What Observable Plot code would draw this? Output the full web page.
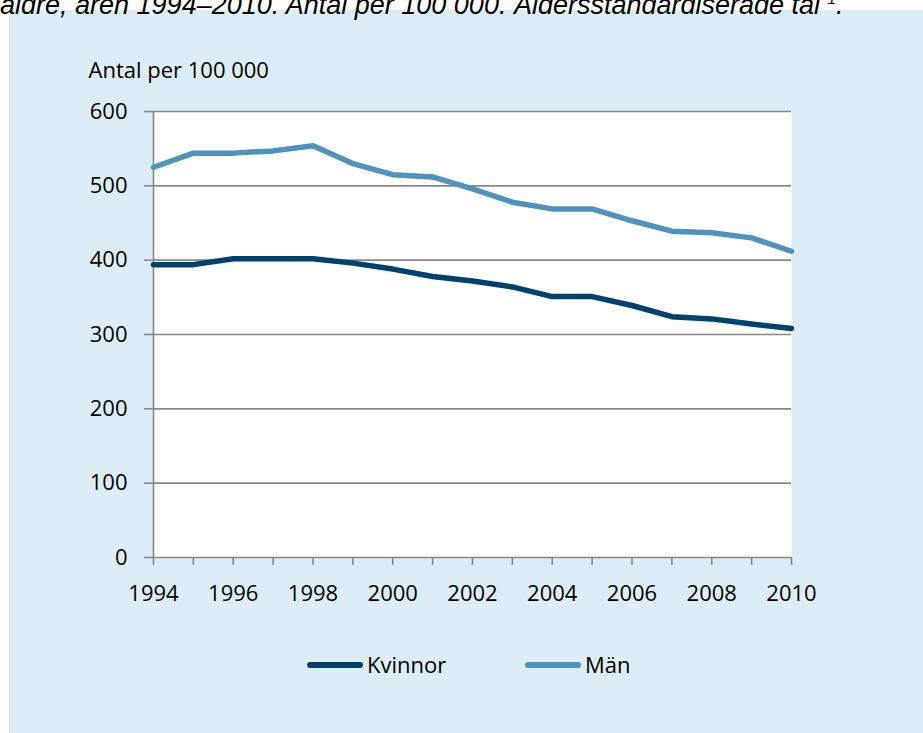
<!DOCTYPE html>
<html lang="sv">
<head>
<meta charset="utf-8">
<script src="https://cdn.jsdelivr.net/npm/d3@7"></script>
<script src="https://cdn.jsdelivr.net/npm/@observablehq/plot@0.6"></script>
<style>
  html, body { margin: 0; padding: 0; background: #fff; }
  body { width: 923px; height: 733px; position: relative; overflow: hidden; font-family: "Open Sans", sans-serif; }
  #title { position: absolute; left: 0; top: -15px; z-index: 2; white-space: nowrap;
           font-family: "Liberation Sans", Arial, sans-serif; font-style: italic; font-size: 27px; line-height: 27px; color: #000; }
  #panel { position: absolute; left: 9px; top: 10px; width: 914px; height: 723px; background: #ddedf5; }
  #chart { position: absolute; left: 0; top: 0; }
  .lg-swatch { position: absolute; height: 6px; border-radius: 3px; }
  .lg-label { position: absolute; font-size: 22px; line-height: 22px; color: #000; white-space: nowrap; }
</style>
</head>
<body>
<div id="title">äldre, åren 1994–2010. Antal per 100 000. Åldersstandardiserade tal <sup style="font-size:15px">1</sup>.</div>
<div id="panel">
  <div id="chart"></div>
  <div id="legend"></div>
</div>
<script>
// Years on the x axis
const years = [1994, 1995, 1996, 1997, 1998, 1999, 2000, 2001, 2002,
               2003, 2004, 2005, 2006, 2007, 2008, 2009, 2010];
// Rate per 100 000, age standardised
const kvinnor = [394, 394, 402, 402, 402, 396, 388, 378, 372,
                 364, 351, 351, 339, 324, 321, 314, 308];
const man     = [525, 544, 544, 547, 554, 530, 515, 512, 496,
                 478, 469, 469, 453, 439, 437, 430, 412];
const seriesNames = ["Kvinnor", "Män"];
const seriesColors = ["#00416b", "#5093ba"];
const yTicks = [0, 100, 200, 300, 400, 500, 600];
const yTitle = "Antal per 100 000";

const rows = years.flatMap((year, i) => [
  {year, value: kvinnor[i], serie: seriesNames[0]},
  {year, value: man[i], serie: seriesNames[1]}
]);

const axisGray = "#878787";

const chart = Plot.plot({
  width: 914,
  height: 600,
  marginLeft: 144,
  marginRight: 132,
  marginTop: 101,
  marginBottom: 53,
  style: {fontFamily: "'Open Sans', sans-serif", fontSize: "22px", color: "#000", background: "transparent", overflow: "visible"},
  x: {domain: [1994, 2010], label: null},
  y: {domain: [0, 600], label: null},
  color: {domain: seriesNames, range: seriesColors},
  marks: [
    Plot.frame({fill: "white", stroke: null}),
    Plot.gridY(yTicks, {stroke: axisGray, strokeOpacity: 1, strokeWidth: 1.6}),
    Plot.ruleX([1994], {stroke: axisGray, strokeWidth: 1.6}),
    Plot.axisY(yTicks, {tickSize: 9, tickPadding: 17, stroke: axisGray, strokeWidth: 1.6,
                        tickFormat: d => String(d), label: null, fontSize: 22}),
    Plot.axisX(years, {tickSize: 8, tickPadding: 20, stroke: axisGray, strokeWidth: 1.6,
                       tickFormat: d => (d % 2 === 0 ? String(d) : ""), label: null, fontSize: 22}),
    Plot.lineY(rows, {x: "year", y: "value", stroke: "serie", strokeWidth: 5.5,
                      strokeLinejoin: "round", strokeLinecap: "round"}),
    Plot.text([yTitle], {text: d => d, frameAnchor: "top-left", dx: -65, dy: -34,
                         textAnchor: "start", lineAnchor: "bottom", fontSize: 22, fill: "#000"})
  ]
});
document.getElementById("chart").appendChild(chart);

// Legend below the chart
const legend = document.getElementById("legend");
const legendX = [298, 516];
seriesNames.forEach((name, i) => {
  const sw = document.createElement("div");
  sw.className = "lg-swatch";
  sw.style.left = legendX[i] + "px";
  sw.style.top = "652px";
  sw.style.width = "56px";
  sw.style.background = seriesColors[i];
  legend.appendChild(sw);
  const lb = document.createElement("div");
  lb.className = "lg-label";
  lb.style.left = (legendX[i] + 60) + "px";
  lb.style.top = "643px";
  lb.textContent = name;
  legend.appendChild(lb);
});
</script>
</body>
</html>
